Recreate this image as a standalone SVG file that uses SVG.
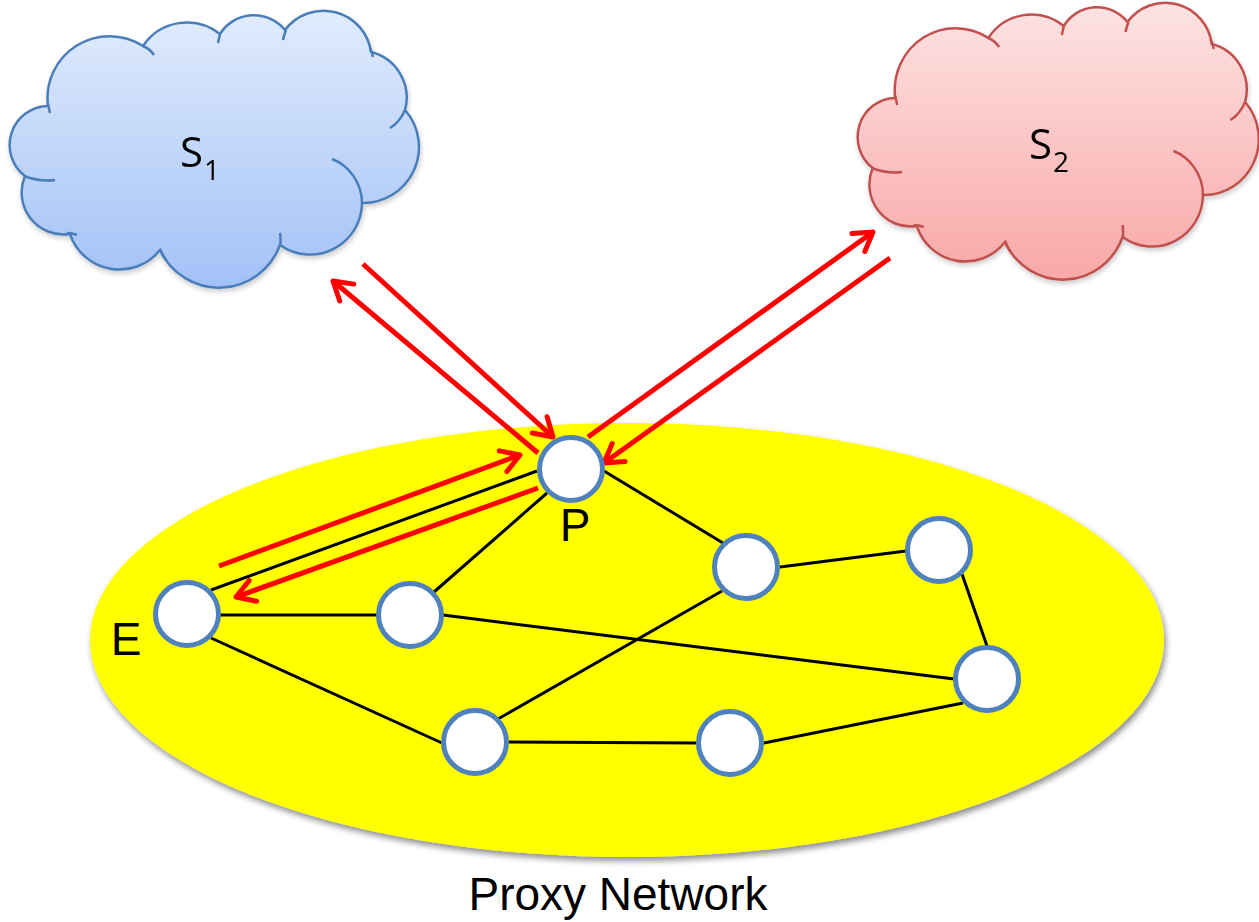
<svg xmlns="http://www.w3.org/2000/svg" width="1259" height="922" viewBox="0 0 1259 922">
  <defs>
    <linearGradient id="blueFill" x1="0" y1="0" x2="0" y2="1">
      <stop offset="0" stop-color="#e1ecfd"/>
      <stop offset="1" stop-color="#a2c1f6"/>
    </linearGradient>
    <linearGradient id="redFill" x1="0" y1="0" x2="0" y2="1">
      <stop offset="0" stop-color="#fde3e3"/>
      <stop offset="1" stop-color="#f8a8a7"/>
    </linearGradient>
    <filter id="softShadow" x="-10%" y="-10%" width="125%" height="130%">
      <feGaussianBlur in="SourceAlpha" stdDeviation="3"/>
      <feOffset dx="2" dy="4" result="blur"/>
      <feComponentTransfer><feFuncA type="linear" slope="0.45"/></feComponentTransfer>
      <feMerge><feMergeNode/><feMergeNode in="SourceGraphic"/></feMerge>
    </filter>
    <filter id="cloudShadow" x="-10%" y="-10%" width="125%" height="130%">
      <feGaussianBlur in="SourceAlpha" stdDeviation="2.5"/>
      <feOffset dx="1" dy="3" result="blur"/>
      <feComponentTransfer><feFuncA type="linear" slope="0.2"/></feComponentTransfer>
      <feMerge><feMergeNode/><feMergeNode in="SourceGraphic"/></feMerge>
    </filter>
    <marker id="openHead" markerUnits="userSpaceOnUse" viewBox="-24 -16 30 32" markerWidth="30" markerHeight="32" refX="0" refY="0" orient="auto">
      <path d="M -18 -11 L 0 0 L -18 11" fill="none" stroke="#ff0000" stroke-width="5" stroke-linecap="round" stroke-linejoin="round"/>
    </marker>
    <!-- cloud outline, drawn in the coordinates of the left cloud -->
    <path id="cloudShape" d="M 25 176 A 39 39 0 0 1 48 106 A 62 62 0 0 1 143 46 A 53 53 0 0 1 220 34 A 40 40 0 0 1 285 30 A 48 48 0 0 1 371 52 A 47 47 0 0 1 405 110 A 56 56 0 0 1 362 203 A 52 52 0 0 1 280 245 A 65 65 0 0 1 160 250 A 52 52 0 0 1 70 234 A 42 42 0 0 1 25 176 Z"/>
    <path id="cloudCreases" fill="none" d="M 24 176 Q 40 182 55 180 M 67 233 Q 72 233 77 235 M 160 249 Q 162 255 166 260 M 280 233 Q 281 240 280 247 M 332 159 C 348 165 362 182 362 203 M 405 110 Q 400 122 390 128 M 370 48 Q 372 52 373 57 M 286 30 Q 284 35 283 40 M 220 34 Q 219 39 218 43 M 143 46 Q 150 49 154 55 M 48 104 Q 49 109 50 113"/>
    <style>
      .edge { stroke: #000000; stroke-width: 3; fill: none; }
      .flow { stroke: #ff0000; stroke-width: 5; fill: none; marker-end: url(#openHead); }
      .node { fill: #ffffff; stroke: #4f81bd; stroke-width: 5; }
      .label { font-family: "Liberation Sans", Arial, sans-serif; font-size: 46px; fill: #000000; }
      .cloudLabel { font-family: "Open Sans", "Noto Sans", sans-serif; font-size: 42px; fill: #000000; }
    </style>
  </defs>

  <rect width="1259" height="922" fill="#ffffff"/>

  <!-- server clouds -->
  <g id="cloud-s1" filter="url(#cloudShadow)">
    <use href="#cloudShape" fill="url(#blueFill)" stroke="#4a7ebb" stroke-width="2.5"/>
    <use href="#cloudCreases" stroke="#4a7ebb" stroke-width="2.5"/>
    <text class="cloudLabel" x="180" y="167">S<tspan font-size="28" dy="13" dx="1">1</tspan></text>
  </g>
  <g id="cloud-s2" filter="url(#cloudShadow)">
    <g transform="translate(848.2,-8) scale(0.98,1)">
      <use href="#cloudShape" fill="url(#redFill)" stroke="#c0504d" stroke-width="2.5"/>
      <use href="#cloudCreases" stroke="#c0504d" stroke-width="2.5"/>
    </g>
    <text class="cloudLabel" x="1029" y="159">S<tspan font-size="28" dy="13" dx="1">2</tspan></text>
  </g>

  <!-- proxy network area -->
  <g id="proxy-network">
    <ellipse cx="627" cy="640" rx="537" ry="217" fill="#ffff00" filter="url(#softShadow)"/>
    <text class="label" x="618" y="910" text-anchor="middle" font-size="47">Proxy Network</text>
  </g>

  <!-- links and message flows -->
  <g id="connectors">
    <line class="edge" x1="537" y1="471" x2="211" y2="590"/>
    <line class="edge" x1="547" y1="493" x2="434" y2="592"/>
    <line class="edge" x1="604" y1="471" x2="723" y2="543"/>
    <line class="edge" x1="220" y1="615" x2="378" y2="615"/>
    <line class="edge" x1="211" y1="638" x2="442" y2="743"/>
    <line class="edge" x1="443" y1="615" x2="954" y2="679"/>
    <line class="edge" x1="780" y1="567" x2="906" y2="551"/>
    <line class="edge" x1="722" y1="591" x2="498" y2="719"/>
    <line class="edge" x1="962" y1="574" x2="987" y2="646"/>
    <line class="edge" x1="963" y1="703" x2="764" y2="743"/>
    <line class="edge" x1="509" y1="742" x2="696" y2="743"/>

    <line class="flow" x1="363" y1="264" x2="553" y2="437"/>
    <line class="flow" x1="538" y1="453" x2="333" y2="281"/>
    <line class="flow" x1="588" y1="437" x2="873" y2="232"/>
    <line class="flow" x1="890" y1="258" x2="604" y2="463"/>
    <line class="flow" x1="219" y1="566" x2="520" y2="455"/>
    <line class="flow" x1="538" y1="488" x2="236" y2="597"/>
  </g>

  <!-- proxy nodes -->
  <g id="node-p">
    <circle class="node" cx="571" cy="469" r="31.5"/>
    <text class="label" x="575" y="541" text-anchor="middle">P</text>
  </g>
  <g id="node-e">
    <circle class="node" cx="187" cy="614" r="31.5"/>
    <text class="label" x="126" y="655" text-anchor="middle">E</text>
  </g>
  <g id="node-a"><circle class="node" cx="410" cy="615" r="31.5"/></g>
  <g id="node-b"><circle class="node" cx="746" cy="567" r="31.5"/></g>
  <g id="node-c"><circle class="node" cx="939" cy="550" r="31.5"/></g>
  <g id="node-d"><circle class="node" cx="987" cy="679" r="31.5"/></g>
  <g id="node-f"><circle class="node" cx="730" cy="743" r="31.5"/></g>
  <g id="node-g"><circle class="node" cx="475" cy="742" r="31.5"/></g>
</svg>
